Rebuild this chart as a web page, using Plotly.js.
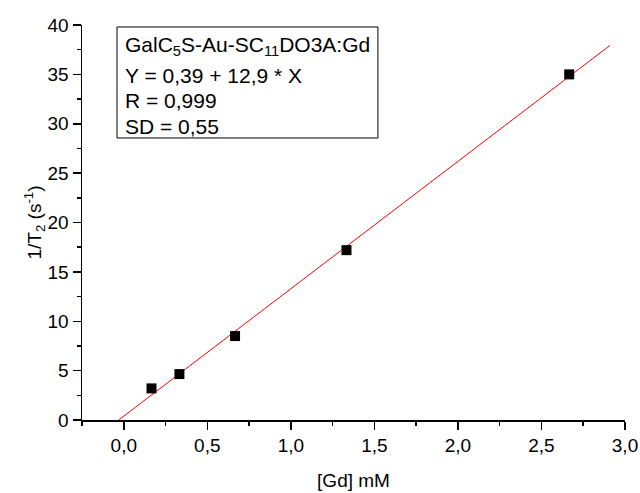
<!DOCTYPE html>
<html>
<head>
<meta charset="utf-8">
<script src="https://cdn.plot.ly/plotly-3.0.1.min.js"></script>
<style>html,body{margin:0;padding:0;background:#fff;}#chart{width:640px;height:493px;}</style>
</head>
<body>
<div id="chart"></div>
<script>
// Data
var gdConc = [0.166, 0.333, 0.666, 1.333, 2.666];
var relaxRate = [3.2, 4.65, 8.5, 17.2, 35.0];
// Linear fit reported on the chart
var fitIntercept = 0.39;
var fitSlope = 12.9;
var fitXStart = -0.03;
var fitXEnd = 2.91;
var fitX = [fitXStart, fitXEnd];
var fitY = fitX.map(function (x) { return fitIntercept + fitSlope * x; });
var boxLines = [
  "GalC<sub>5</sub>S-Au-SC<sub>11</sub>DO3A:Gd",
  "Y = 0,39 + 12,9 * X",
  "R = 0,999",
  "SD = 0,55"
];
var xTickVals = [0, 0.5, 1, 1.5, 2, 2.5, 3];
var yTickVals = [0, 5, 10, 15, 20, 25, 30, 35, 40];

var font = "Liberation Sans, Arial, sans-serif";

var traces = [
  {
    x: fitX, y: fitY, mode: "lines", type: "scatter",
    line: {color: "#ff0000", width: 1}, hoverinfo: "skip", showlegend: false
  },
  {
    x: gdConc, y: relaxRate, mode: "markers", type: "scatter",
    marker: {symbol: "square", size: 10, color: "#000000"}, showlegend: false
  }
];

var lineY = [0.947, 0.873, 0.808, 0.742];
var annotations = boxLines.map(function (t, i) {
  return {
    xref: "paper", yref: "paper", x: 0.075, y: lineY[i],
    xanchor: "left", yanchor: "middle", showarrow: false, text: t,
    font: {family: font, size: 21, color: "#000"}
  };
});

var layout = {
  width: 640, height: 493,
  margin: {l: 82, r: 15, t: 25, b: 73},
  paper_bgcolor: "#fff", plot_bgcolor: "#fff",
  separators: ",.",
  font: {family: font, size: 19, color: "#000"},
  xaxis: {
    range: [-0.25, 3.0], tickvals: xTickVals, tickformat: ".1f",
    ticks: "outside", ticklen: 8, tickwidth: 1.5, tickcolor: "#000",
    minor: {dtick: 0.25, tick0: 0, ticks: "outside", ticklen: 4, tickwidth: 1.5, tickcolor: "#000"},
    showline: true, linecolor: "#000", linewidth: 1.5, showgrid: false, zeroline: false,
    tickfont: {family: font, size: 19},
    title: {text: "[Gd] mM", font: {family: font, size: 19}, standoff: 18}
  },
  yaxis: {
    range: [0, 40], tickvals: yTickVals,
    ticks: "outside", ticklen: 8, tickwidth: 1.5, tickcolor: "#000",
    minor: {dtick: 2.5, tick0: 0, ticks: "outside", ticklen: 4, tickwidth: 1.5, tickcolor: "#000"},
    showline: true, linecolor: "#000", linewidth: 1.5, showgrid: false, zeroline: false,
    tickfont: {family: font, size: 19},
    title: {text: "1/T<sub>2</sub> (s<sup>-1</sup>)", font: {family: font, size: 19}, standoff: 0}
  },
  shapes: [{
    type: "rect", xref: "paper", yref: "paper",
    x0: 0.0645, x1: 0.545, y0: 0.714, y1: 0.995,
    line: {color: "#000", width: 1}, fillcolor: "rgba(0,0,0,0)"
  }],
  annotations: annotations
};

Plotly.newPlot("chart", traces, layout, {staticPlot: true, displayModeBar: false});
</script>
</body>
</html>
